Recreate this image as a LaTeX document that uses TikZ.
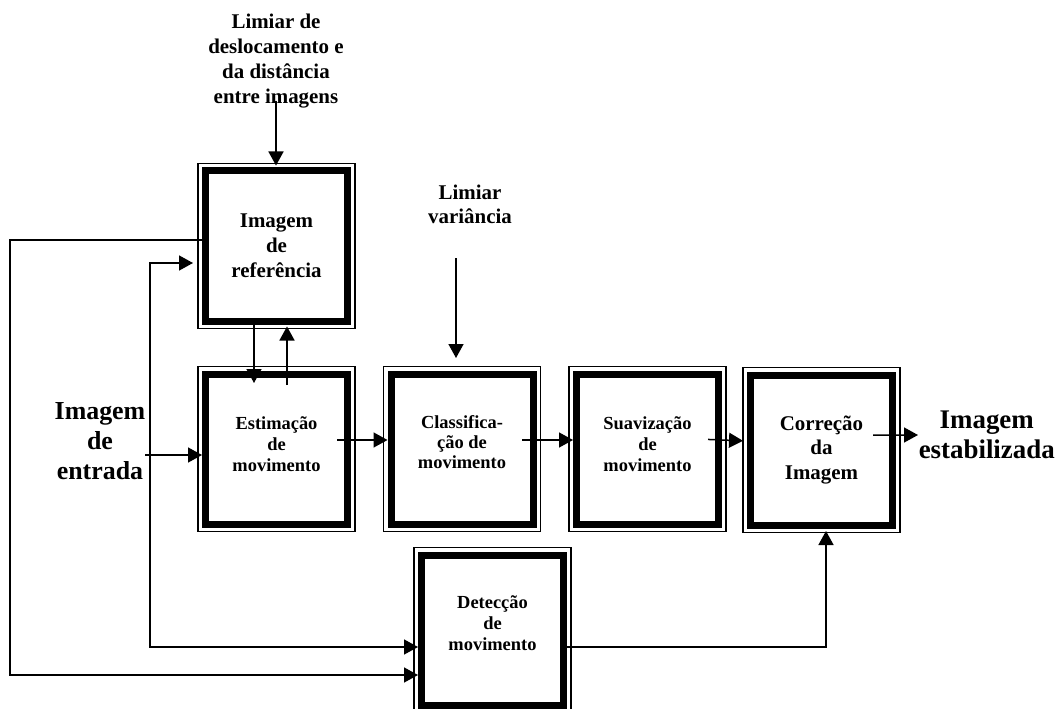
\documentclass[tikz,border=0pt]{standalone}
\usepackage{fontspec}
\setmainfont{Liberation Serif}
\usepackage{tikz}
\usetikzlibrary{arrows.meta}

\begin{document}
\begin{tikzpicture}[x=1bp, y=-1bp, line width=1.5bp, font=\bfseries,
  bloco/.style={draw, line width=7bp, outer sep=3.5bp, minimum width=142bp, minimum height=150bp, inner sep=0pt, align=center},
  rotulo/.style={align=center, inner sep=0pt},
  seta/.style={-{Triangle[length=14bp,width=15bp]}}]
\useasboundingbox (0,0) rectangle (1060,709);

% blocos
\node[bloco, font=\bfseries\fontsize{21}{25}\selectfont] (ref) at (276.5,246) {Imagem\\de\\referência};
\node[bloco, font=\bfseries\fontsize{18.5}{21}\selectfont, text depth=10bp] (est) at (276.5,449) {Estimação\\de\\movimento};
\node[bloco, font=\bfseries\fontsize{18.5}{20}\selectfont, text depth=14bp] (clas) at (462,449) {Classifica-\\ção de\\movimento};
\node[bloco, font=\bfseries\fontsize{18.5}{21}\selectfont, text depth=10bp] (suav) at (647.5,449) {Suavização\\de\\movimento};
\node[bloco, font=\bfseries\fontsize{21}{25}\selectfont] (corr) at (821.5,450) {Correção\\da\\Imagem};
\node[bloco, font=\bfseries\fontsize{18.5}{21}\selectfont, text depth=14bp] (det) at (492.5,630) {Detecção\\de\\movimento};

\foreach \n in {ref,est,clas,suav,corr,det}
  \draw[line width=1.2bp] ([xshift=-4bp,yshift=4bp]\n.north west) rectangle ([xshift=4bp,yshift=-4bp]\n.south east);

% entradas e saida
\node[rotulo, font=\bfseries\fontsize{21}{25}\selectfont] (limdesl) at (276,61) {Limiar de\\deslocamento e\\da distância\\entre imagens};
\node[rotulo, font=\bfseries\fontsize{21}{24}\selectfont] (limvar) at (470,204) {Limiar\\variância};
\node[rotulo, font=\bfseries\fontsize{26}{30}\selectfont] (entrada) at (100,441) {Imagem\\de\\entrada};
\node[rotulo, font=\bfseries\fontsize{27}{30}\selectfont, anchor=west] (saida) at (918,435) {Imagem\\estabilizada};

\coordinate (var) at (456,258);
\coordinate (ent) at (145,455);
\coordinate (bif) at (150,455);
\coordinate (esq) at (10,450);

% ligacoes
\draw[seta, shorten <=-8bp, shorten >=2bp] (limdesl.south) -- (limdesl.south |- ref.north);
\draw[seta, shorten >=12.5bp] (var) -- (var |- clas.north);
\draw[seta, shorten >=-12.5bp] ([xshift=-22.5bp]ref.south) -- ([xshift=-22.5bp]est.north);
\draw[seta, shorten <=-14.5bp, shorten >=2bp] ([xshift=10.5bp]est.north) -- ([xshift=10.5bp]ref.south);
\draw[seta] (ent) -- (ent -| est.west);
\draw[seta, shorten >=9bp] (bif) |- ([yshift=-17bp]ref.west);
\draw[seta] (bif) |- ([yshift=-17bp]det.west);
\draw[seta] ([yshift=6bp]ref.west) -| (esq) |- ([yshift=-45bp]det.west);
\draw[seta, shorten >=2.5bp] ([yshift=-17bp]det.east) -| ([xshift=4.5bp]corr.south);
\draw[seta, shorten <=-14bp] ([yshift=9bp]est.east) -- ([yshift=9bp]clas.west);
\draw[seta, shorten <=-14.5bp] ([yshift=9bp]clas.east) -- ([yshift=9bp]suav.west);
\draw[seta, shorten <=-14bp, shorten >=4bp] ([yshift=9bp]suav.east) -- ([yshift=9bp]corr.west);
\draw[seta, shorten <=-23bp] ([yshift=15bp]corr.east) -- (saida.west);
\end{tikzpicture}
\end{document}
